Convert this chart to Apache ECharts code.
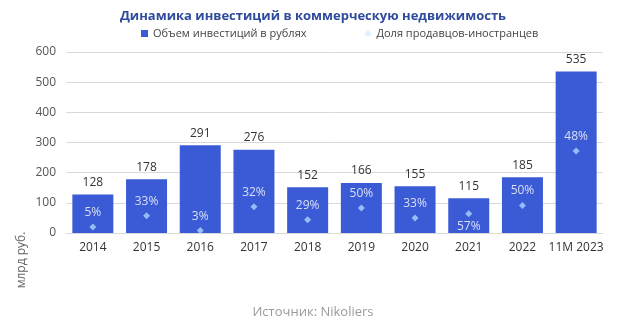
<!DOCTYPE html>
<html>
<head>
<meta charset="utf-8">
<script src="https://cdn.jsdelivr.net/npm/echarts@6/dist/echarts.min.js"></script>
<style>
  html, body { margin: 0; padding: 0; background: #fff; }
  #chart { width: 626px; height: 331px; }
</style>
</head>
<body>
<div id="chart"></div>
<script>
// годы
var years = ["2014", "2015", "2016", "2017", "2018", "2019", "2020", "2021", "2022", "11M 2023"];
// объем инвестиций, млрд руб.
var volumes = [128, 178, 291, 276, 152, 166, 155, 115, 185, 535];
// доля продавцов-иностранцев, %
var shares = [5, 33, 3, 32, 29, 50, 33, 57, 50, 48];
// положение маркеров (по шкале млрд руб.)
var markerValues = [20, 57, 8, 87, 44, 83, 50, 64, 91, 272];
var yTicks = [0, 100, 200, 300, 400, 500, 600];

var font = "'Open Sans', 'Noto Sans', sans-serif";

var markerData = markerValues.map(function (v, i) {
  var item = { value: v, share: shares[i] };
  if (shares[i] === 57) {
    item.label = { position: "bottom", distance: 3 };
  }
  return item;
});

var chart = echarts.init(document.getElementById("chart"));
var option = {
  backgroundColor: "#fff",
  animation: false,
  textStyle: { fontFamily: font },
  title: [
    {
      text: "Динамика инвестиций в коммерческую недвижимость",
      left: "center",
      top: 5,
      textStyle: { fontSize: 13, fontWeight: "bold", color: "#2f4b9c", fontFamily: font }
    },
    {
      text: "Источник: Nikoliers",
      left: "center",
      top: 301,
      textStyle: { fontSize: 13, fontWeight: "normal", color: "#9a9a9a", fontFamily: font }
    }
  ],
  legend: {
    top: 23,
    left: 136,
    itemGap: 58,
    itemWidth: 7,
    itemHeight: 7,
    textStyle: { fontSize: 11, color: "#444", fontFamily: font },
    data: [
      { name: "Объем инвестиций в рублях", icon: "rect" },
      { name: "Доля продавцов-иностранцев", icon: "diamond", itemStyle: { color: "#d6ecff" } }
    ]
  },
  grid: { left: 66, right: 23, top: 52, bottom: 98 },
  xAxis: {
    type: "category",
    data: years,
    axisTick: { show: false },
    axisLine: { lineStyle: { color: "#d9d9d9" } },
    axisLabel: { color: "#333", fontSize: 12, margin: 9, interval: 0 }
  },
  yAxis: {
    type: "value",
    min: yTicks[0],
    max: yTicks[yTicks.length - 1],
    interval: 100,
    axisLine: { show: false },
    axisTick: { show: false },
    splitLine: { lineStyle: { color: "#d9d9d9" } },
    axisLabel: { color: "#555", fontSize: 12, margin: 10 }
  },
  graphic: [
    {
      type: "text",
      x: 22,
      y: 260,
      rotation: Math.PI / 2,
      style: {
        text: "млрд руб.",
        fill: "#666",
        font: "12px " + font,
        textAlign: "center",
        textVerticalAlign: "middle"
      }
    }
  ],
  series: [
    {
      name: "Объем инвестиций в рублях",
      type: "bar",
      data: volumes,
      barWidth: 41,
      itemStyle: { color: "#3a5bd5" },
      label: {
        show: true,
        position: "top",
        distance: 6,
        color: "#333",
        fontSize: 12
      },
      z: 2
    },
    {
      name: "Доля продавцов-иностранцев",
      type: "scatter",
      data: markerData,
      symbol: "diamond",
      symbolSize: 7,
      itemStyle: { color: "#a6d8ff" },
      label: {
        show: true,
        position: "top",
        distance: 5,
        color: "#fff",
        fontSize: 12,
        formatter: function (p) { return p.data.share + "%"; }
      },
      z: 3
    }
  ]
};
chart.setOption(option);
</script>
</body>
</html>
